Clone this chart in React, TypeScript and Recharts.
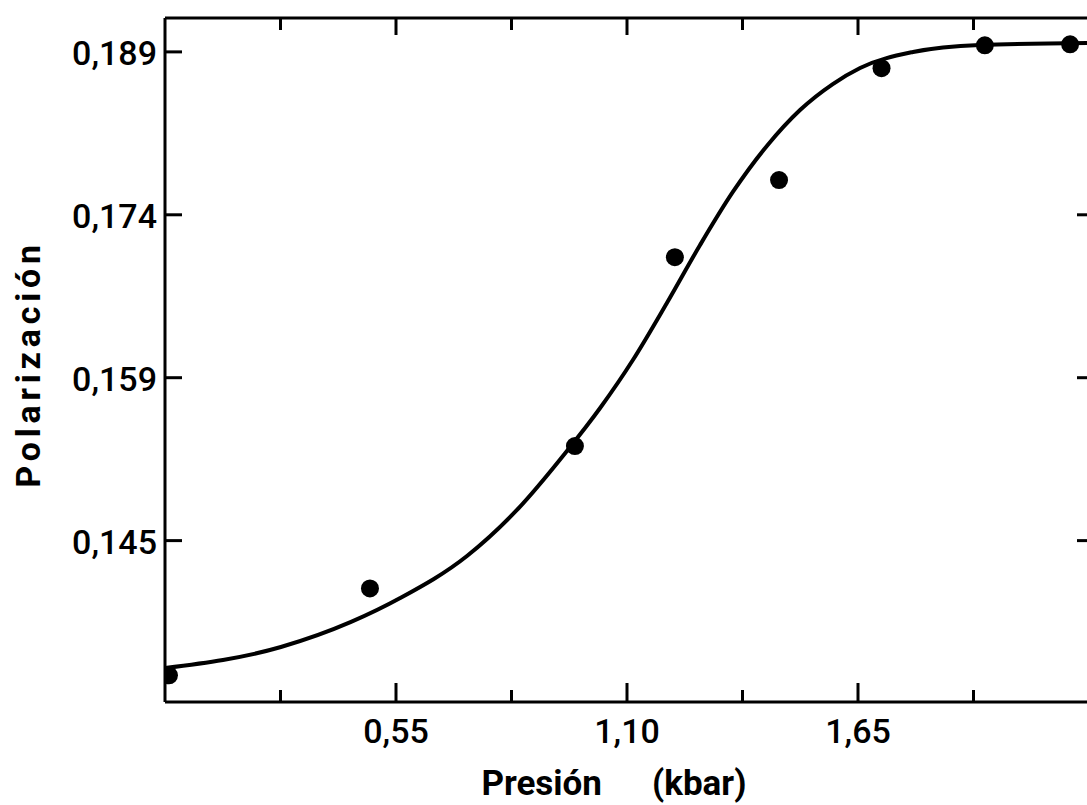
import { ComposedChart, Line, Scatter, XAxis, YAxis } from 'recharts';

// fitted curve
const curveX = [0, 0.276, 0.443, 0.56, 0.719, 0.838, 0.957, 1.036, 1.114, 1.195, 1.274, 1.352, 1.433, 1.512, 1.59, 1.655, 1.781, 1.94, 2.2];
const curveY = [0.13227, 0.1342, 0.13651, 0.13871, 0.14258, 0.14682, 0.15225, 0.15621, 0.16063, 0.16588, 0.17122, 0.1761, 0.18034, 0.18365, 0.18604, 0.18752, 0.18899, 0.18964, 0.18982];

// measured points
const pointX = [0.0095, 0.488, 0.976, 1.214, 1.462, 1.706, 1.952, 2.155];
const pointY = [0.1316, 0.1396, 0.1527, 0.1701, 0.1772, 0.1875, 0.1896, 0.1897];

const xTicks = [0.275, 0.55, 0.825, 1.1, 1.375, 1.65, 1.925];
const xTickLabels = ['', '0,55', '', '1,10', '', '1,65', ''];
const yTicks = [0.144, 0.159, 0.174, 0.189];
const yTickLabels = ['0,145', '0,159', '0,174', '0,189'];
const rightTicks = [0.144, 0.159, 0.174];

const curve = curveX.map((x, i) => ({ x, y: curveY[i] }));
const points = pointX.map((x, i) => ({ x, y: pointY[i] }));

const font = 'Roboto, "DejaVu Sans", sans-serif';
const ink = '#000';

const LeftTick = (props: any) => {
    const { x, y, payload } = props;
    const i = yTicks.indexOf(payload.value);
    return (
        <g>
            <line x1={x} x2={x + 17} y1={y} y2={y} stroke={ink} strokeWidth={3} />
            <text x={x - 8} y={y + 13} textAnchor="end" fontFamily={font} fontSize={34} fontWeight={500} fill={ink}>
                {yTickLabels[i]}
            </text>
        </g>
    );
};

const RightTick = (props: any) => {
    const { x, y } = props;
    return <line x1={x - 12} x2={x} y1={y} y2={y} stroke={ink} strokeWidth={3} />;
};

const BottomTick = (props: any) => {
    const { x, y, payload } = props;
    const i = xTicks.indexOf(payload.value);
    const label = xTickLabels[i];
    return (
        <g>
            <line x1={x} x2={x} y1={y} y2={y - (label ? 19 : 12)} stroke={ink} strokeWidth={3} />
            {label && (
                <text x={x} y={y + 41} textAnchor="middle" fontFamily={font} fontSize={34} fontWeight={500} fill={ink}>
                    {label}
                </text>
            )}
        </g>
    );
};

const TopTick = (props: any) => {
    const { x, y, payload } = props;
    const i = xTicks.indexOf(payload.value);
    return <line x1={x} x2={x} y1={y} y2={y + (xTickLabels[i] ? 17 : 12)} stroke={ink} strokeWidth={3} />;
};

const XTitle = (props: any) => {
    const { x, y } = props.viewBox;
    return (
        <g fontFamily={font} fontSize={35} fontWeight={700} fill={ink}>
            <text x={x + 437} y={y + 93} textAnchor="end">Presión</text>
            <text x={x + 487} y={y + 93}>(kbar)</text>
        </g>
    );
};

const YTitle = (props: any) => {
    const { x, y, height } = props.viewBox;
    const cx = x + 40;
    const cy = y + height / 2 + 4;
    return (
        <text x={cx} y={cy} transform={`rotate(-90, ${cx}, ${cy})`} textAnchor="middle" fontFamily={font} fontSize={34} fontWeight={700} letterSpacing={4.8} fill={ink}>
            Polarización
        </text>
    );
};

const PolarizationChart = () => {
    return (
        <div style={{ position: 'absolute', left: 0, top: 0, width: 1087, height: 805, overflow: 'hidden', background: '#fff' }}>
            <ComposedChart width={1100} height={805} margin={{ top: 0, right: 0, bottom: 0, left: 0 }}>
                <XAxis
                    xAxisId="b"
                    dataKey="x"
                    type="number"
                    domain={[0, 2.2]}
                    ticks={xTicks}
                    interval={0}
                    allowDataOverflow
                    height={103}
                    tickSize={0}
                    tickMargin={0}
                    tickLine={false}
                    tick={<BottomTick />}
                    axisLine={{ stroke: ink, strokeWidth: 3 }}
                    label={{ content: <XTitle /> }}
                />
                <XAxis
                    xAxisId="t"
                    orientation="top"
                    dataKey="x"
                    type="number"
                    domain={[0, 2.2]}
                    ticks={xTicks}
                    interval={0}
                    allowDataOverflow
                    height={18}
                    tickSize={0}
                    tickMargin={0}
                    tickLine={false}
                    tick={<TopTick />}
                    axisLine={{ stroke: ink, strokeWidth: 3 }}
                />
                <YAxis
                    yAxisId="l"
                    type="number"
                    domain={[0.12914, 0.19212]}
                    ticks={yTicks}
                    interval={0}
                    allowDataOverflow
                    width={165}
                    tickSize={0}
                    tickMargin={0}
                    tickLine={false}
                    tick={<LeftTick />}
                    axisLine={{ stroke: ink, strokeWidth: 3 }}
                    label={{ content: <YTitle /> }}
                />
                <YAxis
                    yAxisId="r"
                    orientation="right"
                    type="number"
                    domain={[0.12914, 0.19212]}
                    ticks={rightTicks}
                    interval={0}
                    allowDataOverflow
                    width={11}
                    tickSize={0}
                    tickMargin={0}
                    tickLine={false}
                    tick={<RightTick />}
                    axisLine={false}
                />
                <Line
                    xAxisId="b"
                    yAxisId="l"
                    data={curve}
                    dataKey="y"
                    type="monotone"
                    stroke={ink}
                    strokeWidth={4}
                    dot={false}
                    activeDot={false}
                    isAnimationActive={false}
                />
                <Scatter
                    xAxisId="b"
                    yAxisId="l"
                    data={points}
                    dataKey="y"
                    fill={ink}
                    shape={(p: any) => <circle cx={p.cx} cy={p.cy} r={9} fill={ink} />}
                    isAnimationActive={false}
                />
            </ComposedChart>
        </div>
    );
};

export default PolarizationChart;
